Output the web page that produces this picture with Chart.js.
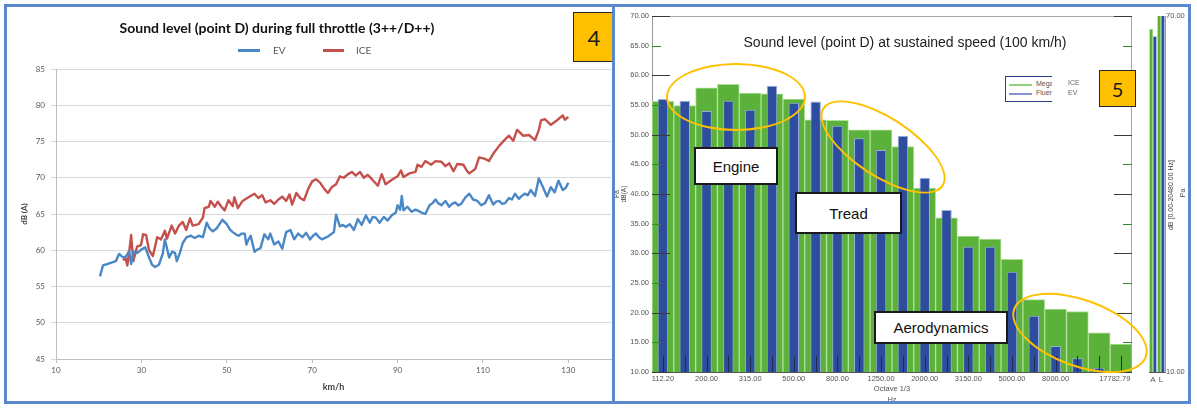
<!DOCTYPE html>
<html>
<head>
<meta charset="utf-8">
<script src="https://cdn.jsdelivr.net/npm/chart.js@4.4.1/dist/chart.umd.min.js"></script>
<style>
  html, body { margin: 0; padding: 0; background: #fff; }
  #stage { position: relative; width: 1197px; height: 408px; overflow: hidden; background: #fff; }
  canvas { position: absolute; }
  .abs { position: absolute; white-space: nowrap; }
  .frame { position: absolute; border: 3px solid #5a88cd; box-sizing: border-box; }
  .badge { position: absolute; background: #ffc000; border: 1.5px solid #262626; box-sizing: border-box;
           display: flex; align-items: center; justify-content: center; font-family: Lato, sans-serif; color: #1a1a1a; }
  .ring { position: absolute; border: 2px solid #ffc000; border-radius: 50%; box-sizing: border-box; }
  .note { position: absolute; background: #fff; border: 2px solid #1a1a1a; box-sizing: border-box;
          display: flex; align-items: center; justify-content: center;
          font: 15px "Liberation Sans", Arial, sans-serif; color: #111; }
  .rot { position: absolute; transform: translate(-50%, -50%) rotate(-90deg); white-space: nowrap; }
</style>
</head>
<body>
<div id="stage">
  <canvas id="throttle" width="612" height="408" style="left:0;top:0"></canvas>
  <canvas id="bands" width="532" height="408" style="left:613px;top:0"></canvas>
  <canvas id="overall" width="47" height="408" style="left:1145px;top:0"></canvas>

  <!-- full-throttle panel: title and legend -->
  <div class="abs" style="left:77px;top:19px;width:400px;text-align:center;font:bold 14px Lato, sans-serif;color:#111">Sound level (point D) during full throttle (3++/D++)</div>
  <div class="abs" style="left:238px;top:49px;width:22px;height:3px;background:#4a87c6"></div>
  <div class="abs" style="left:273px;top:44px;font:10px Lato, sans-serif;color:#595959">EV</div>
  <div class="abs" style="left:323px;top:49px;width:21px;height:3px;background:#c4504c"></div>
  <div class="abs" style="left:356px;top:44px;font:10px Lato, sans-serif;color:#595959">ICE</div>

  <!-- sustained-speed panel: title, legend, side texts -->
  <div class="abs" style="left:705px;top:34px;width:400px;text-align:center;font:14px 'Liberation Sans', Arial, sans-serif;color:#222">Sound level (point D) at sustained speed (100 km/h)</div>
  <div class="abs" style="left:1005px;top:76px;width:47px;height:26px;border:1.5px solid #2c3c8c;border-right:none;box-sizing:border-box;overflow:hidden;background:#fff">
    <div class="abs" style="left:3px;top:7px;width:23px;height:2px;background:#94d17c"></div>
    <div class="abs" style="left:30px;top:3px;font:7px 'Liberation Sans', Arial, sans-serif;color:#555">Megane</div>
    <div class="abs" style="left:3px;top:16px;width:23px;height:2px;background:#8593d2"></div>
    <div class="abs" style="left:30px;top:12px;font:7px 'Liberation Sans', Arial, sans-serif;color:#555">Fluence</div>
  </div>
  <div class="abs" style="left:1068px;top:79px;font:7px 'Liberation Sans', Arial, sans-serif;color:#666">ICE</div>
  <div class="abs" style="left:1068px;top:89px;font:7px 'Liberation Sans', Arial, sans-serif;color:#666">EV</div>
  <div class="rot" style="left:1170px;top:195px;font:7px 'Liberation Sans', Arial, sans-serif;color:#444">dB [0.00-20480.00 Hz]</div>
  <div class="rot" style="left:1182px;top:193px;font:7px 'Liberation Sans', Arial, sans-serif;color:#444">Pa</div>

  <!-- callouts -->
  <div class="ring" style="left:666px;top:63px;width:140px;height:68px"></div>
  <div class="ring" style="left:811px;top:117px;width:144px;height:60px;transform:rotate(33deg)"></div>
  <div class="ring" style="left:1009px;top:299px;width:142px;height:68px;transform:rotate(20deg)"></div>
  <div class="note" style="left:694px;top:147px;width:84px;height:38px">Engine</div>
  <div class="note" style="left:795px;top:192px;width:107px;height:42px">Tread</div>
  <div class="note" style="left:874px;top:311px;width:134px;height:33px">Aerodynamics</div>

  <div class="badge" style="left:573px;top:12px;width:42px;height:50px;font-size:22px">4</div>
  <div class="frame" style="left:4px;top:4px;width:611px;height:400px"></div>
  <div class="frame" style="left:612px;top:4px;width:579px;height:400px"></div>
  <div class="badge" style="left:1099px;top:70px;width:37px;height:37px;font-size:20px">5</div>
</div>

<script>
// ---- Full throttle run: sound level vs vehicle speed ----
const speedTicks = [10, 30, 50, 70, 90, 110, 130];
const levelTicks = [45, 50, 55, 60, 65, 70, 75, 80, 85];

const evSpeed = [20.3, 21.0, 22.0, 23.0, 24.0, 24.8, 25.7, 26.5, 27.1, 27.6, 28.1, 29.0, 30.0, 30.9, 31.8, 32.5, 33.2, 34.1, 35.0, 35.5,
  36.5, 37.2, 37.9, 38.3, 39.0, 39.7, 40.6, 41.6, 42.5, 43.4, 44.4, 45.3, 46.0, 46.7, 47.6, 48.3, 49.0, 50.0, 50.8, 51.4,
  52.1, 52.8, 53.5, 54.2, 54.6, 55.1, 55.6, 56.5, 57.2, 57.9, 58.8, 59.7, 60.2, 61.1, 62.1, 63.0, 63.9, 64.9, 65.8, 66.7,
  67.7, 68.6, 69.5, 70.2, 70.9, 71.6, 72.3, 73.0, 73.7, 75.1, 75.6, 76.5, 77.2, 77.9, 78.8, 79.8, 80.7, 81.6, 82.6, 83.5,
  84.2, 84.9, 85.8, 86.8, 87.7, 88.6, 89.6, 90.0, 90.6, 91.0, 91.4, 92.3, 93.3, 94.2, 95.0, 95.6, 96.5, 97.5, 98.2, 98.9,
  99.5, 100.3, 101.2, 102.1, 102.8, 103.5, 104.2, 104.9, 105.9, 106.8, 107.7, 108.7, 109.6, 110.5, 111.4, 112.4, 113.1, 113.8, 114.5, 115.2,
  116.1, 116.8, 117.5, 118.4, 119.1, 119.8, 120.5, 121.2, 122.2, 123.1, 124.0, 125.0, 125.9, 126.8, 127.7, 128.7, 129.4, 130.0];
const evLevel = [56.4, 57.9, 58.1, 58.3, 58.5, 59.5, 59.0, 59.2, 59.9, 58.1, 59.8, 59.6, 60.1, 60.4, 59.0, 58.0, 57.7, 58.0, 59.5, 61.5,
  59.0, 59.8, 59.6, 58.5, 59.6, 61.0, 61.8, 62.0, 61.7, 62.0, 61.8, 63.8, 63.0, 62.6, 63.0, 63.6, 64.2, 63.6, 62.8, 62.5,
  62.2, 62.0, 62.3, 62.3, 60.8, 61.5, 62.0, 59.8, 60.1, 60.3, 62.2, 61.5, 62.3, 60.8, 61.2, 60.2, 62.5, 62.8, 61.5, 62.3,
  61.8, 62.4, 61.5, 62.0, 62.3, 61.8, 61.5, 61.7, 61.9, 62.5, 64.9, 63.3, 63.5, 63.2, 63.6, 62.8, 64.3, 63.5, 64.8, 63.8,
  64.6, 64.5, 63.8, 64.6, 64.1, 64.8, 65.2, 66.2, 65.6, 67.5, 65.5, 66.0, 65.3, 65.6, 65.4, 65.2, 65.0, 66.2, 66.5, 67.0,
  66.5, 66.2, 66.8, 66.0, 66.4, 66.6, 66.2, 66.4, 67.3, 67.8, 67.0, 66.8, 66.2, 66.5, 67.6, 66.3, 66.7, 66.8, 66.4, 66.5,
  67.2, 67.0, 67.8, 67.1, 67.5, 67.8, 67.6, 68.3, 67.5, 69.9, 68.8, 67.4, 68.7, 68.0, 69.6, 68.3, 68.6, 69.3];

const iceSpeed = [25.7, 26.3, 26.7, 27.2, 27.6, 28.1, 29.0, 29.9, 30.4, 31.1, 31.8, 32.7, 33.7, 34.6, 35.5, 36.0, 37.1, 37.9, 38.8, 39.7,
  40.5, 41.4, 42.0, 43.4, 44.4, 44.8, 45.8, 46.2, 47.2, 47.9, 48.6, 49.5, 50.4, 51.4, 51.8, 52.6, 53.7, 55.1, 56.5, 57.4,
  58.3, 59.1, 60.2, 61.1, 62.1, 63.0, 63.9, 64.7, 65.3, 66.3, 67.2, 68.1, 69.1, 70.0, 70.9, 71.9, 72.8, 73.7, 74.6, 75.6,
  76.5, 77.4, 78.4, 79.3, 80.2, 81.2, 82.1, 83.0, 84.0, 85.4, 86.3, 87.2, 88.6, 90.0, 90.8, 91.4, 92.8, 94.2, 94.7, 95.6,
  96.5, 97.9, 98.9, 100.3, 101.2, 102.1, 103.1, 104.0, 105.4, 106.3, 106.8, 108.2, 109.1, 110.5, 111.4, 112.4, 113.8, 115.2, 116.1, 117.1,
  118.0, 118.4, 119.4, 120.8, 122.2, 123.1, 123.6, 124.5, 125.9, 127.3, 128.7, 129.2, 130.0];
const iceLevel = [58.6, 58.9, 57.9, 60.0, 62.1, 58.5, 60.5, 60.7, 62.2, 62.1, 60.0, 59.2, 61.8, 61.5, 62.7, 61.6, 63.4, 62.3, 63.4, 63.9,
  62.8, 64.4, 63.4, 63.6, 64.5, 65.8, 66.0, 66.8, 66.0, 66.7, 66.1, 65.5, 66.9, 66.1, 67.3, 65.8, 66.8, 67.3, 67.8, 67.2,
  67.6, 66.6, 66.9, 66.4, 67.0, 67.4, 66.8, 67.7, 66.3, 67.9, 67.2, 66.9, 68.5, 69.5, 69.8, 69.3, 68.5, 67.9, 68.7, 69.1,
  70.2, 70.0, 70.5, 70.8, 70.3, 70.8, 70.0, 70.4, 69.8, 68.9, 70.5, 69.1, 69.7, 70.2, 71.0, 70.1, 70.6, 70.8, 71.8, 71.5,
  72.3, 71.8, 72.3, 72.2, 71.6, 72.0, 70.9, 71.9, 71.8, 70.9, 70.6, 71.2, 72.8, 72.6, 72.3, 73.3, 74.4, 75.3, 75.8, 75.1,
  76.6, 76.4, 75.8, 75.9, 75.2, 76.6, 77.9, 78.1, 77.3, 77.9, 78.6, 78.0, 78.4];

// ---- Sustained 100 km/h: 1/3-octave spectrum ----
const bandCentres = [125, 160, 200, 250, 315, 400, 500, 630, 800, 1000, 1250, 1600, 2000, 2500, 3150, 4000, 5000, 6300, 8000, 10000, 12500, 16000];
const bandTickLabels = ['112.20', '', '200.00', '', '315.00', '', '500.00', '', '800.00', '', '1250.00', '', '2000.00', '', '3150.00', '', '5000.00', '', '8000.00', '', '', '17782.79'];
const iceBandDb = [55.6, 54.9, 57.9, 58.5, 57.0, 56.9, 56.0, 52.5, 52.4, 50.8, 50.8, 48.0, 41.0, 36.0, 32.9, 32.4, 29.0, 22.2, 20.6, 20.2, 16.6, 14.7];
const evBandDb  = [56.0, 55.7, 54.0, 55.7, 54.2, 58.25, 55.4, 55.6, 51.5, 49.4, 47.4, 49.8, 42.75, 37.3, 31.1, 31.1, 26.9, 19.5, 14.4, 12.3, 10.7, null];
const spectrumTicks = [10, 15, 20, 25, 30, 35, 40, 45, 50, 55, 60, 65, 70];

// overall levels (A-weighted and linear)
const overallLabels = ['A', 'L'];
const overallIceDb = [67.8, 71.5];
const overallEvDb  = [66.6, 71.0];

const GREEN = '#5bb13a', GREEN_EDGE = '#aee095';
const BLUE = '#2f4d9f', BLUE_EDGE = '#9aaee0';

// ---------- line chart ----------
const calibri = 'Lato, sans-serif';
new Chart(document.getElementById('throttle'), {
  type: 'line',
  data: {
    datasets: [
      { label: 'EV', data: evSpeed.map((s, i) => ({ x: s, y: evLevel[i] })),
        borderColor: '#4a87c6', borderWidth: 2.4, pointRadius: 0, tension: 0, borderJoinStyle: 'round' },
      { label: 'ICE', data: iceSpeed.map((s, i) => ({ x: s, y: iceLevel[i] })),
        borderColor: '#c4504c', borderWidth: 2.4, pointRadius: 0, tension: 0, borderJoinStyle: 'round' }
    ]
  },
  options: {
    responsive: false, animation: false, events: [],
    layout: { padding: { left: 0, top: 69, right: 1, bottom: 0 } },
    plugins: { legend: { display: false }, tooltip: { enabled: false } },
    scales: {
      x: {
        type: 'linear', min: 10, max: 140,
        afterBuildTicks: s => { s.ticks = speedTicks.map(v => ({ value: v })); },
        afterFit: s => { s.height = 49; },
        grid: { drawOnChartArea: false, tickLength: 4, color: '#bfbfbf' },
        border: { color: '#bfbfbf' },
        ticks: { font: { family: calibri, size: 8 }, color: '#595959', padding: 3, maxRotation: 0 },
        title: { display: true, text: 'km/h', font: { family: calibri, size: 9, weight: 'bold' }, color: '#404040', padding: { top: 0, bottom: 16 } }
      },
      y: {
        min: 45, max: 85,
        afterBuildTicks: s => { s.ticks = levelTicks.map(v => ({ value: v })); },
        afterFit: s => { s.width = 56; },
        grid: { color: '#d9d9d9', tickLength: 5 },
        border: { color: '#bfbfbf' },
        ticks: { font: { family: calibri, size: 8 }, color: '#595959', padding: 6 },
        title: { display: true, text: 'dB (A)', font: { family: calibri, size: 8, weight: 'bold' }, color: '#404040', padding: { top: 20, bottom: 0 } }
      }
    }
  }
});

// ---------- spectrum bar chart ----------
const innerMarks = {
  id: 'innerMarks',
  afterDatasetsDraw(chart) {
    const { ctx, chartArea: a, scales } = chart;
    const x = scales.x, y = scales.y;
    ctx.save();
    ctx.lineWidth = 1;
    // plot frame (top and right)
    ctx.strokeStyle = '#a6a6a6';
    ctx.beginPath();
    ctx.moveTo(a.left, a.top + 0.5);
    ctx.lineTo(a.right - 0.5, a.top + 0.5);
    ctx.lineTo(a.right - 0.5, a.bottom);
    ctx.stroke();
    // level ticks pointing into the plot on both sides
    y.ticks.forEach(t => {
      const py = Math.round(y.getPixelForValue(t.value)) + 0.5;
      const major = t.value % 10 === 0;
      const len = major ? 18 : 9;
      ctx.strokeStyle = major ? '#3a3a3a' : '#2f8f2f';
      ctx.beginPath();
      ctx.moveTo(a.left, py); ctx.lineTo(a.left + len, py);
      ctx.moveTo(a.right - len, py); ctx.lineTo(a.right, py);
      ctx.stroke();
    });
    // band-centre ticks along the bottom
    ctx.strokeStyle = '#1d2a55';
    x.ticks.forEach((t, i) => {
      const px = Math.round(x.getPixelForTick(i)) + 0.5;
      ctx.beginPath();
      ctx.moveTo(px, a.bottom); ctx.lineTo(px, a.bottom - 16);
      ctx.stroke();
    });
    ctx.restore();
  }
};

const arial = "'Liberation Sans', Arial, sans-serif";
new Chart(document.getElementById('bands'), {
  type: 'bar',
  data: {
    labels: bandCentres,
    datasets: [
      { label: 'ICE', data: iceBandDb, backgroundColor: GREEN, borderColor: GREEN_EDGE, borderWidth: 1,
        barPercentage: 1, categoryPercentage: 1, grouped: false, order: 2 },
      { label: 'EV', data: evBandDb, backgroundColor: BLUE, borderColor: BLUE_EDGE, borderWidth: 1,
        barPercentage: 0.48, categoryPercentage: 1, grouped: false, order: 1 }
    ]
  },
  options: {
    responsive: false, animation: false, events: [],
    layout: { padding: { left: 0, top: 16, right: 2, bottom: 0 } },
    plugins: { legend: { display: false }, tooltip: { enabled: false } },
    scales: {
      x: {
        afterFit: s => { s.height = 36; },
        grid: { display: false, drawTicks: false },
        border: { color: '#555' },
        ticks: {
          autoSkip: false, maxRotation: 0, padding: 2,
          font: { family: arial, size: 7.5 }, color: '#555',
          // last label sits flush with the right edge of the plot
          callback: (v, i) => i === bandTickLabels.length - 1
            ? bandTickLabels[i] + '\u2007\u2007\u2007'
            : bandTickLabels[i]
        },
        title: { display: true, text: ['Octave 1/3', 'Hz'], font: { family: arial, size: 7.5, lineHeight: 1.45 }, color: '#555', padding: { top: 0, bottom: 3 } }
      },
      y: {
        min: 10, max: 70,
        afterBuildTicks: s => { s.ticks = spectrumTicks.map(v => ({ value: v })); },
        afterFit: s => { s.width = 39; },
        grid: { display: false, drawTicks: false },
        border: { color: '#999' },
        ticks: { font: { family: arial, size: 7.5 }, color: '#555', padding: 3, callback: v => Number(v).toFixed(2) },
        title: { display: true, text: ['Pa', 'dB(A)'], font: { family: arial, size: 6.5, lineHeight: 1.15 }, color: '#444', padding: { top: 0, bottom: 0 } }
      }
    }
  },
  plugins: [innerMarks]
});

// ---------- overall level bars ----------
new Chart(document.getElementById('overall'), {
  type: 'bar',
  data: {
    labels: overallLabels,
    datasets: [
      { label: 'ICE', data: overallIceDb, backgroundColor: GREEN, borderColor: GREEN_EDGE, borderWidth: 0.5,
        barPercentage: 1, categoryPercentage: 0.95 },
      { label: 'EV', data: overallEvDb, backgroundColor: BLUE, borderColor: BLUE_EDGE, borderWidth: 0.5,
        barPercentage: 1, categoryPercentage: 0.95 }
    ]
  },
  options: {
    responsive: false, animation: false, events: [],
    layout: { padding: { left: 4, top: 16, right: 0, bottom: 0 } },
    plugins: { legend: { display: false }, tooltip: { enabled: false } },
    scales: {
      x: {
        afterFit: s => { s.height = 36; },
        grid: { display: false, drawTicks: false },
        border: { color: '#555' },
        ticks: { autoSkip: false, font: { family: arial, size: 8 }, color: '#555', padding: 3, maxRotation: 0 }
      },
      y: {
        position: 'right', min: 10, max: 70,
        afterBuildTicks: s => { s.ticks = [{ value: 10 }, { value: 70 }]; },
        afterFit: s => { s.width = 27; },
        grid: { display: false, drawTicks: false },
        border: { color: '#999' },
        ticks: { font: { family: arial, size: 7.5 }, color: '#555', padding: 1, callback: v => Number(v).toFixed(2) }
      }
    }
  }
});
</script>
</body>
</html>
